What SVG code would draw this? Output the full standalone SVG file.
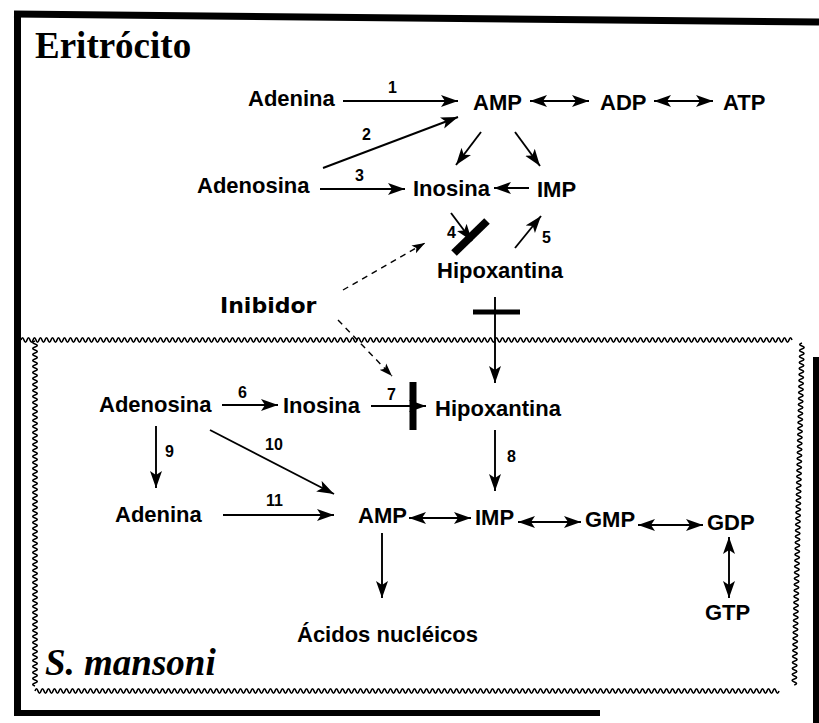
<svg xmlns="http://www.w3.org/2000/svg" width="819" height="723" viewBox="0 0 819 723">
<style>
.n{font-family:"Liberation Sans",Arial,sans-serif;font-weight:bold;font-size:22px;fill:#000}
.l{font-family:"Liberation Sans",Arial,sans-serif;font-weight:bold;font-size:16px;fill:#000}
.t{font-family:"Liberation Serif","Times New Roman",serif;font-weight:bold;font-size:37px;fill:#000}
.a{stroke:#000;stroke-width:1.9;fill:none;marker-end:url(#ah)}
.d{stroke:#000;stroke-width:1.9;fill:none;marker-end:url(#ah);marker-start:url(#ah)}
.ds{stroke:#000;stroke-width:1.4;fill:none;stroke-dasharray:6 5;marker-end:url(#ah2)}
.w{stroke:#000;stroke-width:1.6;fill:none}
</style>
<defs>
<marker id="ah" markerUnits="userSpaceOnUse" markerWidth="18" markerHeight="13" refX="17" refY="6.5" orient="auto-start-reverse">
<path d="M0,0.5 L17,6.5 L0,12.5 L4,6.5 z" fill="#000"/>
</marker>
<marker id="ah2" markerUnits="userSpaceOnUse" markerWidth="14" markerHeight="10" refX="13" refY="5" orient="auto">
<path d="M0,0.5 L13,5 L0,9.5 L3,5 z" fill="#000"/>
</marker>
</defs>

<g id="frame">
<line x1="14" y1="14" x2="819" y2="22" stroke="#000" stroke-width="7"/>
<line x1="17.5" y1="11" x2="17.5" y2="716" stroke="#000" stroke-width="7"/>
<line x1="14" y1="713" x2="600" y2="713" stroke="#000" stroke-width="6"/>
<line x1="816" y1="357" x2="816" y2="723" stroke="#000" stroke-width="6"/>
</g>

<g id="mansoni-box">
<path class="w" d="M21,340 q1.5,-4.5 3,0 t3,0 t3,0 t3,0 t3,0 t3,0 t3,0 t3,0 t3,0 t3,0 t3,0 t3,0 t3,0 t3,0 t3,0 t3,0 t3,0 t3,0 t3,0 t3,0 t3,0 t3,0 t3,0 t3,0 t3,0 t3,0 t3,0 t3,0 t3,0 t3,0 t3,0 t3,0 t3,0 t3,0 t3,0 t3,0 t3,0 t3,0 t3,0 t3,0 t3,0 t3,0 t3,0 t3,0 t3,0 t3,0 t3,0 t3,0 t3,0 t3,0 t3,0 t3,0 t3,0 t3,0 t3,0 t3,0 t3,0 t3,0 t3,0 t3,0 t3,0 t3,0 t3,0 t3,0 t3,0 t3,0 t3,0 t3,0 t3,0 t3,0 t3,0 t3,0 t3,0 t3,0 t3,0 t3,0 t3,0 t3,0 t3,0 t3,0 t3,0 t3,0 t3,0 t3,0 t3,0 t3,0 t3,0 t3,0 t3,0 t3,0 t3,0 t3,0 t3,0 t3,0 t3,0 t3,0 t3,0 t3,0 t3,0 t3,0 t3,0 t3,0 t3,0 t3,0 t3,0 t3,0 t3,0 t3,0 t3,0 t3,0 t3,0 t3,0 t3,0 t3,0 t3,0 t3,0 t3,0 t3,0 t3,0 t3,0 t3,0 t3,0 t3,0 t3,0 t3,0 t3,0 t3,0 t3,0 t3,0 t3,0 t3,0 t3,0 t3,0 t3,0 t3,0 t3,0 t3,0 t3,0 t3,0 t3,0 t3,0 t3,0 t3,0 t3,0 t3,0 t3,0 t3,0 t3,0 t3,0 t3,0 t3,0 t3,0 t3,0 t3,0 t3,0 t3,0 t3,0 t3,0 t3,0 t3,0 t3,0 t3,0 t3,0 t3,0 t3,0 t3,0 t3,0 t3,0 t3,0 t3,0 t3,0 t3,0 t3,0 t3,0 t3,0 t3,0 t3,0 t3,0 t3,0 t3,0 t3,0 t3,0 t3,0 t3,0 t3,0 t3,0 t3,0 t3,0 t3,0 t3,0 t3,0 t3,0 t3,0 t3,0 t3,0 t3,0 t3,0 t3,0 t3,0 t3,0 t3,0 t3,0 t3,0 t3,0 t3,0 t3,0 t3,0 t3,0 t3,0 t3,0 t3,0 t3,0 t3,0 t3,0 t3,0 t3,0 t3,0 t3,0 t3,0 t3,0 t3,0 t3,0 t3,0 t3,0 t3,0 t3,0 t3,0 t3,0 t3,0 t3,0 t3,0 t3,0 t3,0 t3,0 t3,0 t3,0 t3,0 t3,0 t3,0 t3,0 t3,0 t3,0 t3,0 t3,0 t3,0 t3,0 t3,0 t3,0 t3,0 t3,0 t3,0 t3,0 t3,0 t3,0 t3,0 t3,0 t3,0"/>
<path class="w" d="M35,341 q-4.5,1.5 0,3 t0,3 t0,3 t0,3 t0,3 t0,3 t0,3 t0,3 t0,3 t0,3 t0,3 t0,3 t0,3 t0,3 t0,3 t0,3 t0,3 t0,3 t0,3 t0,3 t0,3 t0,3 t0,3 t0,3 t0,3 t0,3 t0,3 t0,3 t0,3 t0,3 t0,3 t0,3 t0,3 t0,3 t0,3 t0,3 t0,3 t0,3 t0,3 t0,3 t0,3 t0,3 t0,3 t0,3 t0,3 t0,3 t0,3 t0,3 t0,3 t0,3 t0,3 t0,3 t0,3 t0,3 t0,3 t0,3 t0,3 t0,3 t0,3 t0,3 t0,3 t0,3 t0,3 t0,3 t0,3 t0,3 t0,3 t0,3 t0,3 t0,3 t0,3 t0,3 t0,3 t0,3 t0,3 t0,3 t0,3 t0,3 t0,3 t0,3 t0,3 t0,3 t0,3 t0,3 t0,3 t0,3 t0,3 t0,3 t0,3 t0,3 t0,3 t0,3 t0,3 t0,3 t0,3 t0,3 t0,3 t0,3 t0,3 t0,3 t0,3 t0,3 t0,3 t0,3 t0,3 t0,3 t0,3 t0,3 t0,3 t0,3 t0,3 t0,3 t0,3 t0,3 t0,3"/>
<path class="w" d="M35,691 q1.5,-4.5 3,0 t3,0 t3,0 t3,0 t3,0 t3,0 t3,0 t3,0 t3,0 t3,0 t3,0 t3,0 t3,0 t3,0 t3,0 t3,0 t3,0 t3,0 t3,0 t3,0 t3,0 t3,0 t3,0 t3,0 t3,0 t3,0 t3,0 t3,0 t3,0 t3,0 t3,0 t3,0 t3,0 t3,0 t3,0 t3,0 t3,0 t3,0 t3,0 t3,0 t3,0 t3,0 t3,0 t3,0 t3,0 t3,0 t3,0 t3,0 t3,0 t3,0 t3,0 t3,0 t3,0 t3,0 t3,0 t3,0 t3,0 t3,0 t3,0 t3,0 t3,0 t3,0 t3,0 t3,0 t3,0 t3,0 t3,0 t3,0 t3,0 t3,0 t3,0 t3,0 t3,0 t3,0 t3,0 t3,0 t3,0 t3,0 t3,0 t3,0 t3,0 t3,0 t3,0 t3,0 t3,0 t3,0 t3,0 t3,0 t3,0 t3,0 t3,0 t3,0 t3,0 t3,0 t3,0 t3,0 t3,0 t3,0 t3,0 t3,0 t3,0 t3,0 t3,0 t3,0 t3,0 t3,0 t3,0 t3,0 t3,0 t3,0 t3,0 t3,0 t3,0 t3,0 t3,0 t3,0 t3,0 t3,0 t3,0 t3,0 t3,0 t3,0 t3,0 t3,0 t3,0 t3,0 t3,0 t3,0 t3,0 t3,0 t3,0 t3,0 t3,0 t3,0 t3,0 t3,0 t3,0 t3,0 t3,0 t3,0 t3,0 t3,0 t3,0 t3,0 t3,0 t3,0 t3,0 t3,0 t3,0 t3,0 t3,0 t3,0 t3,0 t3,0 t3,0 t3,0 t3,0 t3,0 t3,0 t3,0 t3,0 t3,0 t3,0 t3,0 t3,0 t3,0 t3,0 t3,0 t3,0 t3,0 t3,0 t3,0 t3,0 t3,0 t3,0 t3,0 t3,0 t3,0 t3,0 t3,0 t3,0 t3,0 t3,0 t3,0 t3,0 t3,0 t3,0 t3,0 t3,0 t3,0 t3,0 t3,0 t3,0 t3,0 t3,0 t3,0 t3,0 t3,0 t3,0 t3,0 t3,0 t3,0 t3,0 t3,0 t3,0 t3,0 t3,0 t3,0 t3,0 t3,0 t3,0 t3,0 t3,0 t3,0 t3,0 t3,0 t3,0 t3,0 t3,0 t3,0 t3,0 t3,0 t3,0 t3,0 t3,0 t3,0 t3,0 t3,0 t3,0 t3,0 t3,0 t3,0 t3,0 t3,0 t3,0 t3,0 t3,0 t3,0 t3,0 t3,0 t3,0 t3,0 t3,0 t3,0 t3,0 t3,0 t3,0 t3,0"/>
<path class="w" transform="rotate(1.3 802 343)" d="M802,343 q-4.5,1.5 0,3 t0,3 t0,3 t0,3 t0,3 t0,3 t0,3 t0,3 t0,3 t0,3 t0,3 t0,3 t0,3 t0,3 t0,3 t0,3 t0,3 t0,3 t0,3 t0,3 t0,3 t0,3 t0,3 t0,3 t0,3 t0,3 t0,3 t0,3 t0,3 t0,3 t0,3 t0,3 t0,3 t0,3 t0,3 t0,3 t0,3 t0,3 t0,3 t0,3 t0,3 t0,3 t0,3 t0,3 t0,3 t0,3 t0,3 t0,3 t0,3 t0,3 t0,3 t0,3 t0,3 t0,3 t0,3 t0,3 t0,3 t0,3 t0,3 t0,3 t0,3 t0,3 t0,3 t0,3 t0,3 t0,3 t0,3 t0,3 t0,3 t0,3 t0,3 t0,3 t0,3 t0,3 t0,3 t0,3 t0,3 t0,3 t0,3 t0,3 t0,3 t0,3 t0,3 t0,3 t0,3 t0,3 t0,3 t0,3 t0,3 t0,3 t0,3 t0,3 t0,3 t0,3 t0,3 t0,3 t0,3 t0,3 t0,3 t0,3 t0,3 t0,3 t0,3 t0,3 t0,3 t0,3 t0,3 t0,3 t0,3 t0,3 t0,3 t0,3 t0,3 t0,3"/>
</g>

<g id="titles">
<text class="t" x="35" y="58">Eritrócito</text>
<text class="t" x="45" y="675" font-style="italic">S. mansoni</text>
</g>

<g id="eri-adenina"><text class="n" x="248" y="106">Adenina</text></g>
<g id="eri-amp"><text class="n" x="473" y="110">AMP</text></g>
<g id="eri-adp"><text class="n" x="600" y="110">ADP</text></g>
<g id="eri-atp"><text class="n" x="723" y="110">ATP</text></g>
<g id="eri-adenosina"><text class="n" x="197" y="193">Adenosina</text></g>
<g id="eri-inosina"><text class="n" x="413" y="196">Inosina</text></g>
<g id="eri-imp"><text class="n" x="537" y="197">IMP</text></g>
<g id="eri-hipoxantina"><text class="n" x="437" y="278">Hipoxantina</text></g>
<g id="inibidor"><text x="220" y="313" font-family="'DejaVu Sans',Verdana,sans-serif" font-weight="bold" font-size="22">Inibidor</text></g>

<g id="sm-adenosina"><text class="n" x="99" y="412">Adenosina</text></g>
<g id="sm-inosina"><text class="n" x="283" y="413">Inosina</text></g>
<g id="sm-hipoxantina"><text class="n" x="435" y="416">Hipoxantina</text></g>
<g id="sm-adenina"><text class="n" x="115" y="522">Adenina</text></g>
<g id="sm-amp"><text class="n" x="358" y="523">AMP</text></g>
<g id="sm-imp"><text class="n" x="475" y="525">IMP</text></g>
<g id="sm-gmp"><text class="n" x="585" y="527">GMP</text></g>
<g id="sm-gdp"><text class="n" x="707" y="530">GDP</text></g>
<g id="sm-gtp"><text class="n" x="705" y="620">GTP</text></g>
<g id="sm-acidos"><text class="n" x="297" y="642">Ácidos nucléicos</text></g>

<g id="connectors">
<line class="a" x1="343" y1="101" x2="458" y2="101"/>
<text class="l" x="388" y="93">1</text>
<line class="d" x1="530" y1="101" x2="589" y2="101"/>
<line class="d" x1="654" y1="101" x2="713" y2="101"/>
<line class="a" x1="323" y1="168" x2="458" y2="117"/>
<text class="l" x="362" y="140">2</text>
<line class="a" x1="320" y1="189" x2="405" y2="189"/>
<text class="l" x="355" y="181">3</text>
<line class="a" x1="481" y1="132" x2="456" y2="165"/>
<line class="a" x1="515" y1="132" x2="540" y2="166"/>
<line class="a" x1="529" y1="188" x2="494" y2="188"/>
<line class="a" x1="451" y1="213" x2="472" y2="241"/>
<line x1="454" y1="253" x2="487" y2="221" stroke="#000" stroke-width="8"/>
<text class="l" x="447" y="238">4</text>
<line class="a" x1="515" y1="248" x2="541" y2="216"/>
<text class="l" x="542" y="243">5</text>
<line class="ds" x1="343" y1="290" x2="425" y2="243"/>
<line class="ds" x1="338" y1="320" x2="392" y2="376"/>
<line class="a" x1="495" y1="297" x2="495" y2="383"/>
<line x1="473" y1="312" x2="520" y2="312" stroke="#000" stroke-width="5"/>

<line class="a" x1="222" y1="405" x2="278" y2="405"/>
<text class="l" x="238" y="398">6</text>
<line class="a" x1="371" y1="406" x2="426" y2="406"/>
<line x1="413" y1="382" x2="413" y2="430" stroke="#000" stroke-width="7"/>
<text class="l" x="387" y="400">7</text>
<line class="a" x1="495" y1="430" x2="495" y2="491"/>
<text class="l" x="507" y="462">8</text>
<line class="a" x1="156" y1="426" x2="156" y2="488"/>
<text class="l" x="165" y="457">9</text>
<line class="a" x1="210" y1="430" x2="334" y2="494"/>
<text class="l" x="265" y="450">10</text>
<line class="a" x1="223" y1="515" x2="334" y2="515"/>
<text class="l" x="266" y="506">11</text>
<line class="d" x1="409" y1="518" x2="471" y2="518"/>
<line class="d" x1="518" y1="522" x2="581" y2="522"/>
<line class="d" x1="638" y1="525" x2="703" y2="525"/>
<line class="d" x1="729" y1="537" x2="729" y2="598"/>
<line class="a" x1="382" y1="533" x2="382" y2="598"/>
</g>
</svg>
